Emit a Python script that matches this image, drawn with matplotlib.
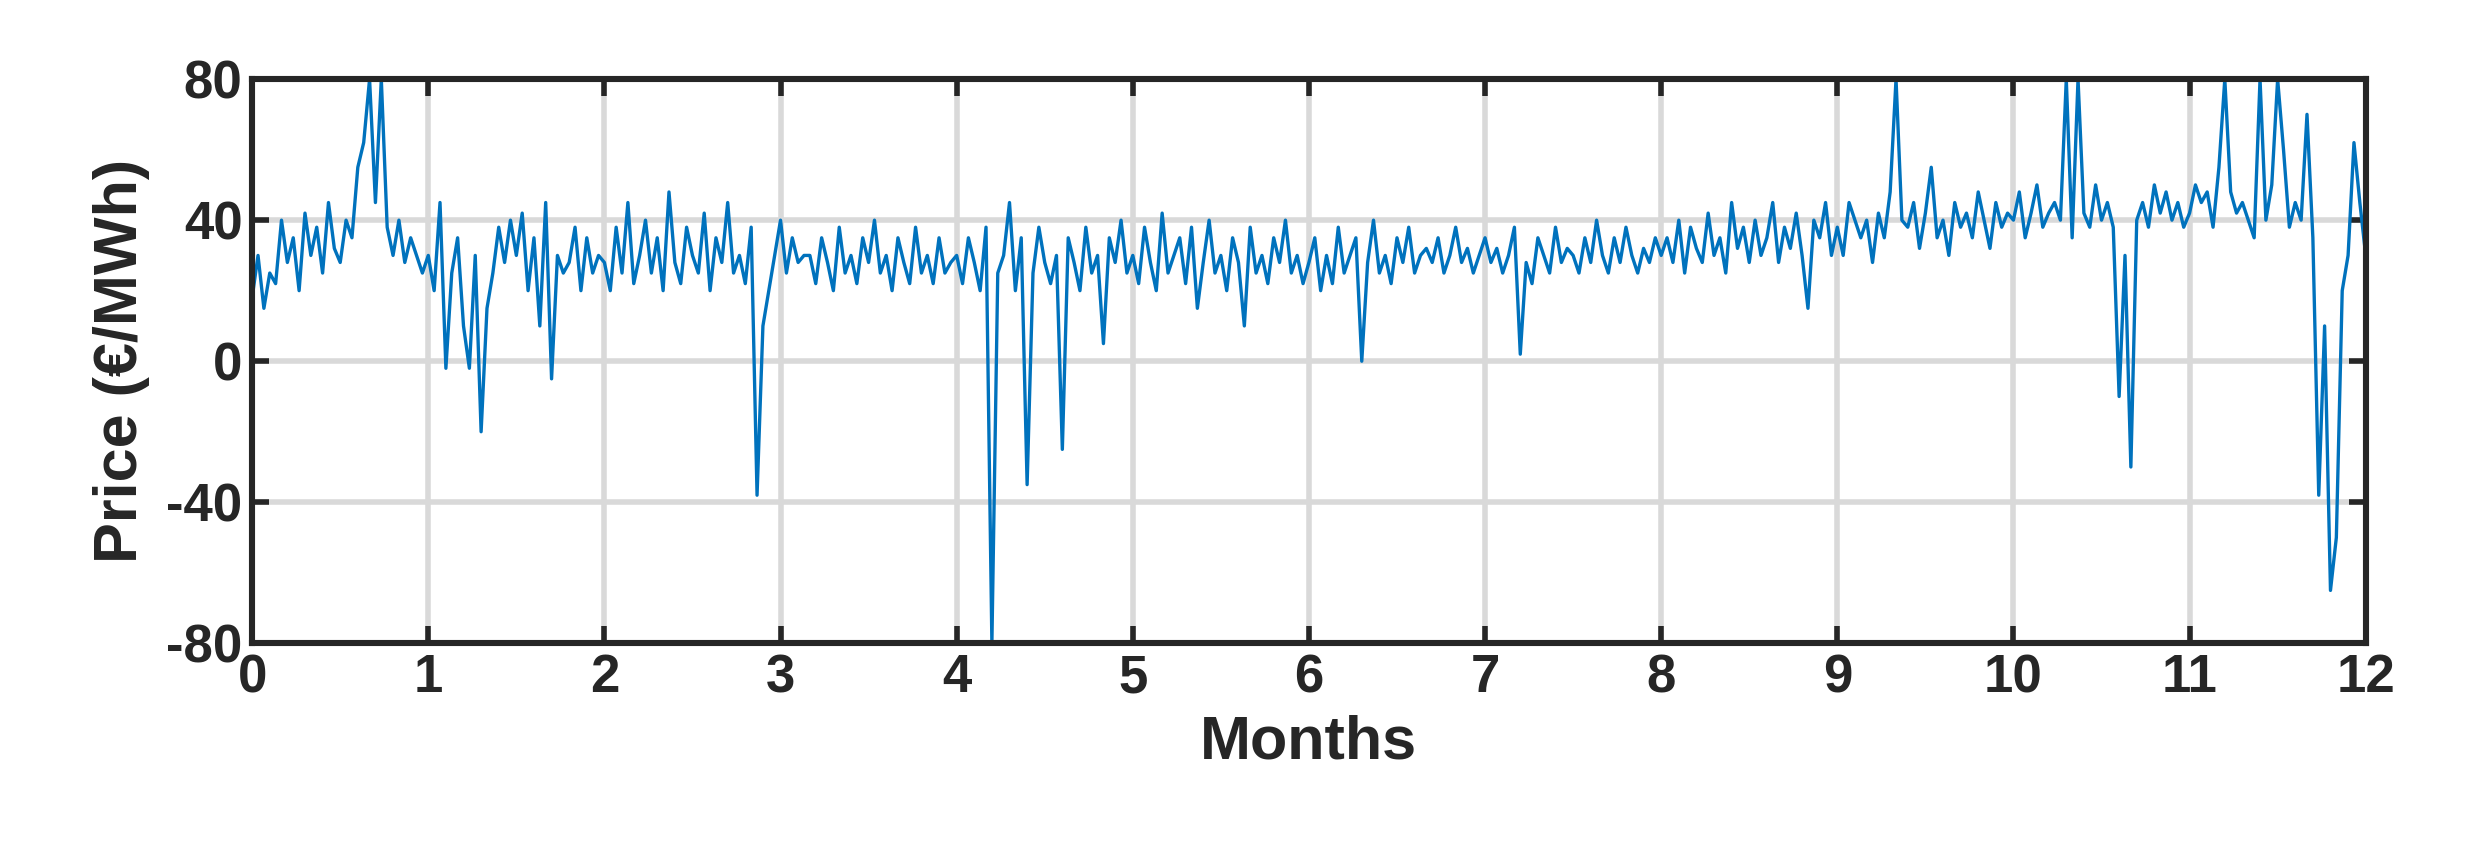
import numpy as np
import matplotlib
matplotlib.use("Agg")
import matplotlib.pyplot as plt

m0 = [18,30,15,25,22,40,28,35,20,42,30,38,25,45,32,28,40,35,55,62,80,45,80,38,30,40,28,35,30,25]
m1 = [30,20,45,-2,25,35,10,-2,30,-20,15,25,38,28,40,30,42,20,35,10,45,-5,30,25,28,38,20,35,25,30]
m2 = [28,20,38,25,45,22,30,40,25,35,20,48,28,22,38,30,25,42,20,35,28,45,25,30,22,38,-38,10,20,30]
m3 = [40,25,35,28,30,30,22,35,28,20,38,25,30,22,35,28,40,25,30,20,35,28,22,38,25,30,22,35,25,28]
m4 = [30,22,35,28,20,38,-80,25,30,45,20,35,-35,25,38,28,22,30,-25,35,28,20,38,25,30,5,35,28,40,25]
m5 = [30,22,38,28,20,42,25,30,35,22,38,15,28,40,25,30,20,35,28,10,38,25,30,22,35,28,40,25,30,22]
m6 = [28,35,20,30,22,38,25,30,35,0,28,40,25,30,22,35,28,38,25,30,32,28,35,25,30,38,28,32,25,30]
m7 = [35,28,32,25,30,38,2,28,22,35,30,25,38,28,32,30,25,35,28,40,30,25,35,28,38,30,25,32,28,35]
m8 = [30,35,28,40,25,38,32,28,42,30,35,25,45,32,38,28,40,30,35,45,28,38,32,42,30,15,40,35,45,30]
m9 = [38,30,45,40,35,40,28,42,35,48,80,40,38,45,32,42,55,35,40,30,45,38,42,35,48,40,32,45,38,42]
m10 = [40,48,35,42,50,38,42,45,40,80,35,80,42,38,50,40,45,38,-10,30,-30,40,45,38,50,42,48,40,45,38]
m11 = [42,50,45,48,38,55,80,48,42,45,40,35,80,40,50,80,60,38,45,40,70,35,-38,10,-65,-50,20,30,62,45,30]
price = m0+m1+m2+m3+m4+m5+m6+m7+m8+m9+m10+m11
months = np.linspace(0, 12, len(price))

plt.rcParams['font.family'] = ['Liberation Sans', 'DejaVu Sans']
plt.rcParams['font.weight'] = 'bold'
plt.rcParams['axes.unicode_minus'] = False
fig = plt.figure(figsize=(12.36, 4.3), dpi=200)
ax = fig.add_axes([0.102, 0.252, 0.855, 0.656])
ax.plot(months, price, color='#0072BD', lw=1.2)
ax.set_xlim(0, 12)
ax.set_ylim(-80, 80)
ax.set_xticks(range(13))
ax.set_yticks([-80, -40, 0, 40, 80])
ax.grid(True, color='#d9d9d9', lw=2)
ax.tick_params(direction='in', top=True, right=True, length=6, width=2, labelsize=19, colors='#262626')
for s in ax.spines.values():
    s.set_linewidth(2.2); s.set_color('#262626')
ax.set_xlabel('Months', fontsize=22, fontweight='bold', color='#262626', labelpad=4)
ax.set_ylabel('Price (€/MWh)', fontsize=22, fontweight='bold', color='#262626', labelpad=6)
fig.savefig('out.png')
